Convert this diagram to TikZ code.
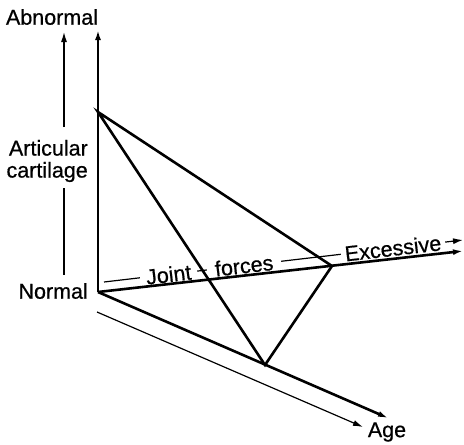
\documentclass[tikz,border=0pt]{standalone}
\usepackage{fontspec}
\setmainfont[FakeBold=0.6]{Liberation Sans}
\usetikzlibrary{arrows.meta}

\begin{document}
\begin{tikzpicture}[x=1pt, y=-1pt,
    heavy/.style={line width=2.6pt},
    light/.style={line width=1.2pt},
    tip/.style={-{Latex[length=10pt,width=6pt]}},
    lbl/.style={font=\fontsize{21.5}{22}\selectfont, inner sep=1pt}]
  \useasboundingbox (0,0) rectangle (464,445);

  % Points
  \coordinate (origin) at (98,292);
  \coordinate (top) at (98,112);
  \coordinate (abnTip) at (98,30);
  \coordinate (force) at (332,266);
  \coordinate (forceTip) at (463,251);
  \coordinate (old) at (265,365);
  \coordinate (ageTip) at (388,418);

  % Labels
  \node (abnormal) [lbl] at (52,17) {Abnormal};
  \node (cartilage) [lbl, align=right, anchor=east] at (89,161) {Articular\\cartilage};
  \node (normal) [lbl, anchor=east] at (89,291) {Normal};
  \node (age) [lbl] at (387,432) {Age};

  % Side scale
  \coordinate (sideUp) at (64,127);
  \coordinate (sideTip) at (64,32);
  \coordinate (sideDown) at (64,188);
  \coordinate (sideLow) at (64,275);
  \draw[light, tip] (sideUp) -- (sideTip);
  \draw[light] (sideDown) -- (sideLow);

  % Joint forces guide
  \coordinate (guideStart) at (104,282);
  \coordinate (guideTip) at (463,240);
  \draw[light, tip] (guideStart) -- (guideTip)
    node (joint) [lbl, fill=white, sloped, inner xsep=6pt, pos=0.18] {Joint}
    node (forces) [lbl, fill=white, sloped, inner xsep=8pt, pos=0.39] {forces}
    node (excessive) [lbl, fill=white, sloped, inner xsep=4pt, pos=0.805] {Excessive};

  % Age guide
  \coordinate (ageStart) at (97,312);
  \coordinate (ageGuideTip) at (363,427);
  \draw[light, tip] (ageStart) -- (ageGuideTip);

  % Axes
  \draw[heavy, tip] (origin) -- (abnTip);
  \draw[heavy, tip] (origin) -- (forceTip);
  \draw[heavy, tip] (origin) -- (ageTip);

  % Triangle
  \draw[heavy] (top) -- (force) -- (old) -- cycle;
\end{tikzpicture}
\end{document}
